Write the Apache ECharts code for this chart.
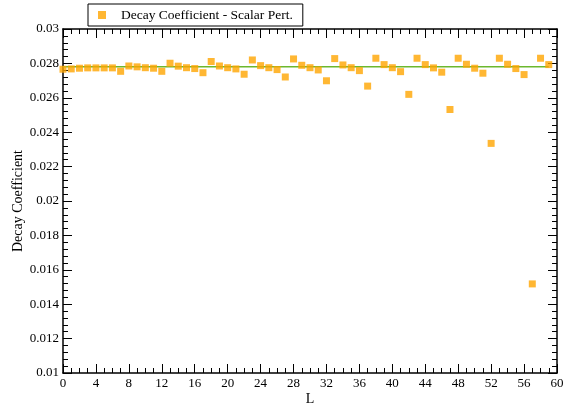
<!DOCTYPE html>
<html><head><meta charset="utf-8">
<script src="https://cdn.jsdelivr.net/npm/echarts@6/dist/echarts.min.js"></script>
<style>html,body{margin:0;padding:0;background:#fff}#c{width:564px;height:406px}</style>
</head><body><div id="c"></div>
<script>
const seriesName = 'Decay Coefficient - Scalar Pert.';
const Lvalues = [0,1,2,3,4,5,6,7,8,9,10,11,12,13,14,15,16,17,18,19,20,21,22,23,24,25,26,27,28,29,30,31,32,33,34,35,36,37,38,39,40,41,42,43,44,45,46,47,48,49,50,51,52,53,54,55,56,57,58,59];
const decay = [0.02766,0.02768,0.02772,0.02774,0.02774,0.02774,0.02774,0.02754,0.02785,0.02780,
0.02775,0.02772,0.02754,0.02801,0.02784,0.02775,0.02770,0.02746,0.02811,0.02785,
0.02775,0.02768,0.02737,0.02820,0.02787,0.02775,0.02764,0.02721,0.02826,0.02789,
0.02775,0.02762,0.02699,0.02828,0.02791,0.02775,0.02758,0.02668,0.02830,0.02793,
0.02775,0.02752,0.02620,0.02830,0.02793,0.02774,0.02749,0.02532,0.02830,0.02795,
0.02772,0.02743,0.02335,0.02830,0.02795,0.02770,0.02735,0.01518,0.02830,0.02793];
const refLineL = [0, 59];
const refLineValue = [0.0278, 0.0278];
const xTicks = {min:0, max:60, interval:4};
const yTicks = {min:0.01, max:0.03, interval:0.002};

const font = 'Liberation Serif';
const chart = echarts.init(document.getElementById('c'), null, {renderer:'canvas'});
const axisLine = {show:true, onZero:false, lineStyle:{color:'#000', width:1.5}};
const tick = {show:true, inside:true, length:9, lineStyle:{color:'#000', width:1}};
const minor = (n)=>({show:true, splitNumber:n, length:5, lineStyle:{color:'#000', width:1}});
const yfmt = v => parseFloat(v.toFixed(4)).toString();
chart.setOption({
  animation:false,
  backgroundColor:'#fff',
  textStyle:{fontFamily:font},
  legend:{
    left:88, top:4, padding:[4,10,4,10],
    borderColor:'#000', borderWidth:1, borderRadius:0,
    itemWidth:8, itemHeight:8, itemGap:10,
    data:[{name:seriesName, icon:'rect'}],
    textStyle:{fontFamily:font, fontSize:13.5, color:'#000', padding:[0,0,0,10]}
  },
  grid:{left:63, right:7, top:29, bottom:33, containLabel:false, outerBoundsMode:'none'},
  xAxis:[{
    type:'value', min:xTicks.min, max:xTicks.max, interval:xTicks.interval,
    name:'L', nameLocation:'middle', nameGap:19, nameMoveOverlap:false,
    nameTextStyle:{fontFamily:font, fontSize:14, color:'#000'},
    axisLine:axisLine, axisTick:tick, minorTick:minor(4),
    axisLabel:{fontFamily:font, fontSize:13, color:'#000', margin:4},
    splitLine:{show:false}
  },{
    type:'value', position:'top', min:xTicks.min, max:xTicks.max, interval:xTicks.interval,
    axisLine:axisLine, axisTick:tick, minorTick:minor(4),
    axisLabel:{show:false}, splitLine:{show:false}
  }],
  yAxis:[{
    type:'value', min:yTicks.min, max:yTicks.max, interval:yTicks.interval,
    name:'Decay Coefficient', nameLocation:'middle', nameGap:38, nameRotate:90, nameMoveOverlap:false,
    nameTextStyle:{fontFamily:font, fontSize:14, color:'#000'},
    axisLine:axisLine, axisTick:tick, minorTick:minor(5),
    axisLabel:{fontFamily:font, fontSize:13, color:'#000', margin:4, formatter:yfmt},
    splitLine:{show:false}
  },{
    type:'value', position:'right', min:yTicks.min, max:yTicks.max, interval:yTicks.interval,
    axisLine:axisLine, axisTick:tick, minorTick:minor(5),
    axisLabel:{show:false}, splitLine:{show:false}
  }],
  series:[{
    name:'ref', type:'line', data:refLineL.map((l,i)=>[l, refLineValue[i]]),
    symbol:'none', lineStyle:{color:'#6cb82e', width:1.5}, z:1, silent:true
  },{
    name:seriesName, type:'scatter', symbol:'rect', symbolSize:7,
    data:Lvalues.map((l,i)=>[l, decay[i]]),
    itemStyle:{color:'#ffa500'}, z:3
  }]
});
</script></body></html>
